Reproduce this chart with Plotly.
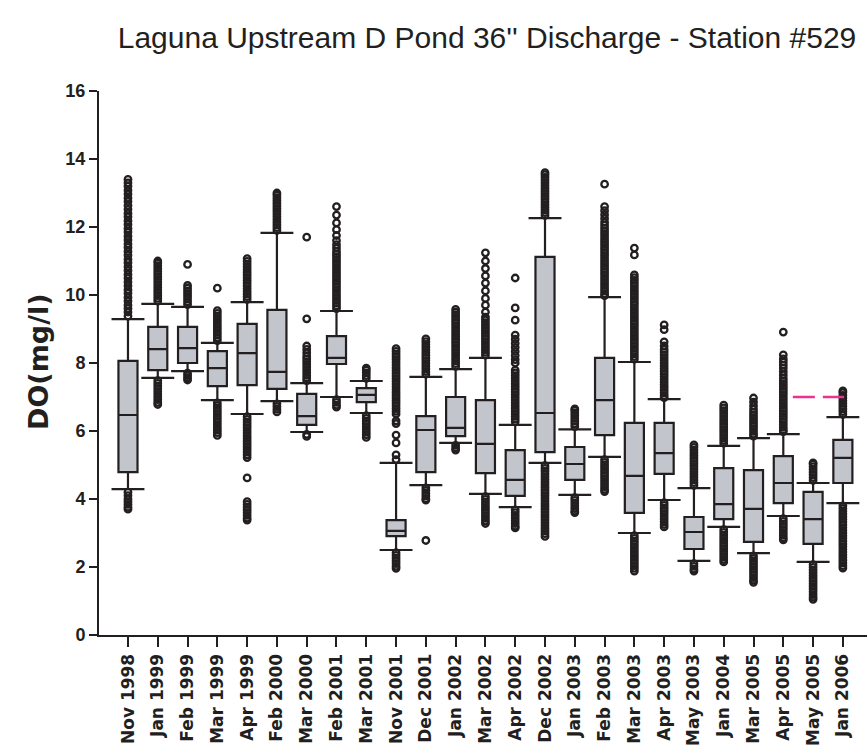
import plotly.graph_objects as go

# Sampling months at Station #529
months = ["Nov 1998", "Jan 1999", "Feb 1999", "Mar 1999", "Apr 1999", "Feb 2000",
          "Mar 2000", "Feb 2001", "Mar 2001", "Nov 2001", "Dec 2001", "Jan 2002",
          "Mar 2002", "Apr 2002", "Dec 2002", "Jan 2003", "Feb 2003", "Mar 2003",
          "Apr 2003", "May 2003", "Jan 2004", "Mar 2005", "Apr 2005", "May 2005",
          "Jan 2006"]

# Box statistics, DO in mg/l
q1 = [4.79, 7.79, 8.00, 7.32, 7.35, 7.24, 6.18, 7.97, 6.85, 2.91, 4.79, 5.85, 4.76,
      4.09, 5.38, 4.56, 5.88, 3.59, 4.74, 2.53, 3.41, 2.74, 3.88, 2.68, 4.47]
median = [6.47, 8.41, 8.44, 7.85, 8.29, 7.74, 6.44, 8.15, 7.06, 3.06, 6.03, 6.09, 5.62,
          4.56, 6.53, 5.03, 6.91, 4.68, 5.35, 3.03, 3.85, 3.71, 4.47, 3.41, 5.21]
q3 = [8.06, 9.06, 9.06, 8.35, 9.15, 9.56, 7.09, 8.79, 7.26, 3.38, 6.44, 7.00, 6.91,
      5.44, 11.12, 5.53, 8.15, 6.24, 6.24, 3.47, 4.91, 4.85, 5.26, 4.21, 5.74]
whisker_low = [4.29, 7.56, 7.76, 6.91, 6.50, 6.88, 5.97, 7.00, 6.53, 2.50, 4.41, 5.65, 4.15,
               3.76, 5.06, 4.12, 5.24, 3.00, 3.97, 2.18, 3.18, 2.41, 3.50, 2.15, 3.88]
whisker_high = [9.29, 9.74, 9.65, 8.59, 9.79, 11.83, 7.41, 9.53, 7.47, 5.06, 7.59, 7.82, 8.15,
                6.18, 12.26, 6.05, 9.94, 8.03, 6.94, 4.32, 5.56, 5.79, 5.91, 4.47, 6.41]

# Individual readings beyond the whiskers, one list per month
outliers = [
    [9.38, 9.5, 9.6, 9.7, 9.82, 9.93, 10.05, 10.15, 10.27, 10.38, 10.5, 10.6, 10.72, 10.83,
     10.95, 11.05, 11.17, 11.28, 11.4, 11.5, 11.62, 11.73, 11.85, 11.95, 12.07, 12.18, 12.3,
     12.4, 12.52, 12.63, 12.75, 12.85, 12.97, 13.08, 13.2, 13.3, 13.4,
     4.2, 4.1, 4.0, 3.92, 3.84, 3.76, 3.7],
    [9.82, 9.9, 9.98, 10.06, 10.14, 10.22, 10.3, 10.38, 10.46, 10.54, 10.62, 10.7, 10.78,
     10.86, 10.94, 11.0,
     7.48, 7.4, 7.32, 7.24, 7.16, 7.08, 7.0, 6.92, 6.84, 6.78],
    [10.9, 9.72, 9.8, 9.88, 9.96, 10.04, 10.12, 10.2, 10.28,
     7.7, 7.63, 7.56, 7.5],
    [10.2, 8.66, 8.74, 8.82, 8.9, 8.98, 9.06, 9.14, 9.22, 9.3, 9.38, 9.46, 9.54,
     6.83, 6.75, 6.67, 6.59, 6.51, 6.43, 6.35, 6.27, 6.19, 6.11, 6.03, 5.95, 5.87],
    [9.87, 9.95, 10.03, 10.11, 10.19, 10.27, 10.35, 10.43, 10.51, 10.59, 10.67, 10.75, 10.83,
     10.91, 10.99, 11.07,
     6.42, 6.34, 6.26, 6.18, 6.1, 6.02, 5.94, 5.86, 5.78, 5.7, 5.62, 5.54, 5.46, 5.38, 5.3,
     5.22, 4.62, 3.92, 3.84, 3.76, 3.68, 3.6, 3.52, 3.44, 3.38],
    [11.9, 11.98, 12.06, 12.14, 12.22, 12.3, 12.38, 12.46, 12.54, 12.62, 12.7, 12.78, 12.86,
     12.94, 13.0,
     6.8, 6.72, 6.64, 6.56],
    [11.7, 9.3, 7.48, 7.56, 7.64, 7.72, 7.8, 7.88, 7.96, 8.04, 8.12, 8.2, 8.3, 8.4, 8.5,
     5.9, 5.84],
    [9.6, 9.68, 9.76, 9.84, 9.92, 10.0, 10.08, 10.16, 10.24, 10.32, 10.4, 10.48, 10.56, 10.64,
     10.72, 10.8, 10.88, 10.96, 11.04, 11.12, 11.2, 11.28, 11.38, 11.48, 11.6, 11.75, 11.92,
     12.12, 12.35, 12.6,
     6.92, 6.84, 6.76, 6.7],
    [7.55, 7.63, 7.71, 7.79, 7.85,
     6.45, 6.37, 6.29, 6.21, 6.13, 6.05, 5.97, 5.89, 5.81],
    [5.16, 5.3, 5.65, 5.88, 6.22, 6.3, 6.5, 6.58, 6.66, 6.74, 6.82, 6.9, 6.98, 7.06, 7.14,
     7.22, 7.3, 7.38, 7.46, 7.54, 7.62, 7.7, 7.78, 7.86, 7.94, 8.02, 8.1, 8.18, 8.26, 8.34,
     8.42,
     2.42, 2.34, 2.26, 2.18, 2.1, 2.02, 1.96],
    [7.67, 7.75, 7.83, 7.91, 7.99, 8.07, 8.15, 8.23, 8.31, 8.39, 8.47, 8.55, 8.63, 8.71,
     4.33, 4.25, 4.17, 4.09, 4.01, 3.97, 2.78],
    [7.9, 7.98, 8.06, 8.14, 8.22, 8.3, 8.38, 8.46, 8.54, 8.62, 8.7, 8.78, 8.86, 8.94, 9.02,
     9.1, 9.18, 9.26, 9.34, 9.42, 9.5, 9.58,
     5.58, 5.5, 5.44],
    [8.23, 8.31, 8.39, 8.47, 8.55, 8.63, 8.71, 8.79, 8.87, 8.95, 9.03, 9.11, 9.19, 9.27,
     9.35, 9.5, 9.7, 9.9, 10.12, 10.35, 10.56, 10.78, 11.0, 11.24,
     4.07, 3.99, 3.91, 3.83, 3.75, 3.67, 3.59, 3.51, 3.43, 3.35, 3.28],
    [10.5, 9.62, 9.26, 8.82, 8.7, 8.58, 8.46, 8.34, 8.22, 8.1, 8.0, 7.79, 7.71, 7.63, 7.55,
     7.47, 7.39, 7.31, 7.23, 7.15, 7.07, 6.99, 6.91, 6.83, 6.75, 6.67, 6.59, 6.51, 6.43,
     6.35, 6.27,
     3.68, 3.6, 3.52, 3.44, 3.36, 3.28, 3.2, 3.15],
    [12.34, 12.42, 12.5, 12.58, 12.66, 12.74, 12.82, 12.9, 12.98, 13.06, 13.14, 13.22, 13.3,
     13.38, 13.46, 13.54, 13.6,
     4.98, 4.9, 4.82, 4.74, 4.66, 4.58, 4.5, 4.42, 4.34, 4.26, 4.18, 4.1, 4.02, 3.94, 3.86,
     3.78, 3.7, 3.62, 3.54, 3.46, 3.38, 3.3, 3.22, 3.14, 3.06, 2.98, 2.9],
    [6.13, 6.21, 6.29, 6.37, 6.45, 6.53, 6.61, 6.65,
     4.04, 3.96, 3.88, 3.8, 3.72, 3.64, 3.6],
    [13.26, 12.6, 12.48, 12.36, 12.25, 12.14, 12.05, 11.96, 11.88, 11.8, 11.72, 11.64, 11.56,
     11.48, 11.4, 11.32, 11.24, 11.16, 11.08, 11.0, 10.92, 10.84, 10.76, 10.68, 10.6, 10.52,
     10.44, 10.36, 10.28, 10.2, 10.12, 10.04, 9.98,
     5.16, 5.08, 5.0, 4.92, 4.84, 4.76, 4.68, 4.6, 4.52, 4.44, 4.36, 4.28, 4.22],
    [11.38, 11.18, 10.59, 10.51, 10.43, 10.35, 10.27, 10.19, 10.11, 10.03, 9.95, 9.87, 9.79,
     9.71, 9.63, 9.55, 9.47, 9.39, 9.31, 9.23, 9.15, 9.07, 8.99, 8.91, 8.83, 8.75, 8.67,
     8.59, 8.51, 8.43, 8.35, 8.27, 8.19, 8.11,
     2.92, 2.84, 2.76, 2.68, 2.6, 2.52, 2.44, 2.36, 2.28, 2.2, 2.12, 2.04, 1.96, 1.88],
    [9.12, 8.98, 8.62, 8.5, 8.4, 8.32, 8.24, 8.16, 8.08, 8.0, 7.92, 7.84, 7.76, 7.68, 7.6,
     7.52, 7.44, 7.36, 7.28, 7.2, 7.12, 7.04, 6.98,
     3.89, 3.81, 3.73, 3.65, 3.57, 3.49, 3.41, 3.33, 3.25, 3.18],
    [4.4, 4.48, 4.56, 4.64, 4.72, 4.8, 4.88, 4.96, 5.04, 5.12, 5.2, 5.28, 5.36, 5.44, 5.52,
     5.59,
     2.1, 2.02, 1.94, 1.88],
    [5.64, 5.72, 5.8, 5.88, 5.96, 6.04, 6.12, 6.2, 6.28, 6.36, 6.44, 6.52, 6.6, 6.68, 6.76,
     3.1, 3.02, 2.94, 2.86, 2.78, 2.7, 2.62, 2.54, 2.46, 2.38, 2.3, 2.22, 2.15],
    [6.97, 6.85, 6.74, 6.64, 6.55, 6.47, 6.39, 6.31, 6.23, 6.15, 6.07, 5.99, 5.91, 5.85,
     2.33, 2.25, 2.17, 2.09, 2.01, 1.93, 1.85, 1.77, 1.69, 1.61, 1.55],
    [8.91, 8.24, 8.12, 8.03, 7.94, 7.85, 7.75, 7.65, 7.55, 7.47, 7.39, 7.31, 7.23, 7.15,
     7.07, 6.99, 6.91, 6.83, 6.75, 6.67, 6.59, 6.51, 6.43, 6.35, 6.27, 6.19, 6.11, 6.03,
     5.98,
     3.42, 3.34, 3.26, 3.18, 3.1, 3.02, 2.94, 2.86, 2.8],
    [4.55, 4.63, 4.71, 4.79, 4.87, 4.95, 5.03, 5.06,
     2.07, 1.99, 1.91, 1.83, 1.75, 1.67, 1.59, 1.51, 1.43, 1.35, 1.27, 1.19, 1.11, 1.05],
    [6.49, 6.57, 6.65, 6.73, 6.81, 6.89, 6.97, 7.05, 7.13, 7.18,
     3.8, 3.72, 3.64, 3.56, 3.48, 3.4, 3.32, 3.24, 3.16, 3.08, 3.0, 2.92, 2.84, 2.76, 2.68,
     2.6, 2.52, 2.44, 2.36, 2.28, 2.2, 2.12, 2.04, 1.97],
]

# Dissolved-oxygen reference level and the span it is drawn over (category index)
do_standard = 7.0
standard_span = [22.32, 24.04]

INK = "#231F20"
BOX_FILL = "#C3C5CC"
PINK = "#E8348F"

fig = go.Figure()

fig.add_trace(go.Box(
    x=months, q1=q1, median=median, q3=q3,
    lowerfence=whisker_low, upperfence=whisker_high,
    width=0.64, whiskerwidth=0, boxpoints=False,
    fillcolor=BOX_FILL, line=dict(color=INK, width=2.2),
    hoverinfo="skip", showlegend=False,
))

# Whisker caps (line-ew spans 1.4 x marker size)
fig.add_trace(go.Scatter(
    x=months + months, y=whisker_low + whisker_high,
    mode="markers",
    marker=dict(symbol="line-ew", size=23.5, color=INK, line=dict(color=INK, width=2.2)),
    hoverinfo="skip", showlegend=False,
))

# Outlying readings
ox, oy = [], []
for m, vals in zip(months, outliers):
    ox += [m] * len(vals)
    oy += vals
fig.add_trace(go.Scatter(
    x=ox, y=oy, mode="markers",
    marker=dict(symbol="circle-open", size=6.5, color=INK, line=dict(color=INK, width=2.3)),
    hoverinfo="skip", showlegend=False,
))

fig.add_shape(type="line", xref="x", yref="y",
              x0=standard_span[0], x1=standard_span[1], y0=do_standard, y1=do_standard,
              line=dict(color=PINK, width=2.5, dash="22px,8px"))

fig.add_annotation(text="<b>DO(mg/l)</b>", xref="paper", yref="paper",
                   x=(38 - 99) / 768, y=(635 - 362) / 544,
                   xanchor="center", yanchor="middle",
                   textangle=-90, showarrow=False,
                   font=dict(family="DejaVu Sans", size=27, color=INK))

fig.update_layout(
    width=867, height=751,
    margin=dict(l=99, r=0, t=91, b=116, pad=0),
    paper_bgcolor="white", plot_bgcolor="white",
    title=dict(text="Laguna Upstream D Pond 36'' Discharge - Station #529",
               x=487 / 867, xanchor="center", xref="container",
               y=1 - 37 / 751, yanchor="middle", yref="container",
               font=dict(family="Liberation Sans, Arial", size=30, color=INK)),
    xaxis=dict(type="category", range=[-0.973, 24.81], showgrid=False, zeroline=False,
               showline=True, linecolor=INK, linewidth=2,
               ticks="outside", ticklen=10, tickwidth=2, tickcolor=INK,
               tickangle=-90,
               tickfont=dict(family="DejaVu Sans", size=17, color=INK, weight="bold")),
    yaxis=dict(range=[0, 16], tickvals=[0, 2, 4, 6, 8, 10, 12, 14, 16],
               showgrid=False, zeroline=False,
               showline=True, linecolor=INK, linewidth=2,
               ticks="outside", ticklen=8, tickwidth=2, tickcolor=INK,
               tickfont=dict(family="Liberation Sans, Arial", size=18, color=INK,
                             weight="bold")),
)

fig.write_html("out.html")
